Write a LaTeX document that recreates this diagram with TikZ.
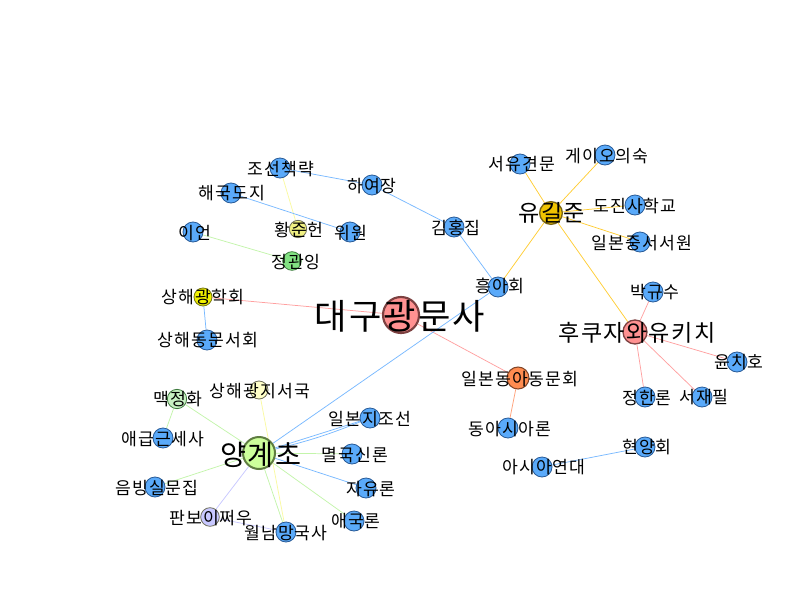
\documentclass[tikz,border=0pt]{standalone}
\usepackage{fontspec}
\newfontfamily\kr[LetterSpace=6]{Noto Sans CJK KR}
\pgfdeclarelayer{bg}
\pgfsetlayers{bg,main}
\definecolor{nb}{RGB}{90,170,250}
\definecolor{nbD}{RGB}{40,90,150}
\definecolor{eb}{RGB}{120,185,255}
\definecolor{pinkN}{RGB}{255,145,145}
\definecolor{pinkD}{RGB}{125,65,65}
\definecolor{ep}{RGB}{255,160,160}
\definecolor{goldN}{RGB}{240,195,0}
\definecolor{goldD}{RGB}{120,100,20}
\definecolor{egd}{RGB}{255,205,50}
\definecolor{orangeN}{RGB}{255,140,80}
\definecolor{orangeD}{RGB}{130,70,40}
\definecolor{eo}{RGB}{255,160,120}
\definecolor{yellowN}{RGB}{240,240,0}
\definecolor{yellowD}{RGB}{120,120,20}
\definecolor{pyN}{RGB}{240,240,130}
\definecolor{epy}{RGB}{250,250,160}
\definecolor{greenN}{RGB}{130,225,130}
\definecolor{greenD}{RGB}{60,120,60}
\definecolor{egr}{RGB}{195,245,170}
\definecolor{lgN}{RGB}{205,255,155}
\definecolor{lgD}{RGB}{95,125,65}
\definecolor{mjN}{RGB}{200,240,195}
\definecolor{creamN}{RGB}{255,255,200}
\definecolor{lavN}{RGB}{200,200,255}
\definecolor{elav}{RGB}{200,200,255}
\definecolor{grayD}{RGB}{110,110,90}
\begin{document}
\begin{tikzpicture}[x=0.75pt,y=-0.75pt,
  nd/.style={circle,draw,inner sep=0pt,minimum size=15pt,line width=0.6pt},
  bn/.style={nd,fill=nb,draw=nbD},
  lb/.style={font=\kr\fontsize{12.9}{14}\selectfont,inner sep=0pt,text=black},
  lbS/.style={font=\kr\fontsize{17.3}{19}\selectfont,inner sep=0pt,text=black},
  lbM/.style={font=\kr\fontsize{21.2}{23}\selectfont,inner sep=0pt,text=black},
  lbL/.style={font=\kr\fontsize{26.4}{29}\selectfont,inner sep=0pt,text=black},
  ed/.style={line width=0.55pt}]
\useasboundingbox (0,0) rectangle (800,600);
% circles
\node[nd,fill=pinkN,draw=pinkD,line width=1.6pt,minimum size=27pt] (dg) at (401,315) {};
\node[bn] (hu) at (498,287) {};
\node[bn] (kh) at (454,227) {};
\node[bn] (hy) at (372,185) {};
\node[bn] (js) at (280,168) {};
\node[bn] (hg) at (231,193) {};
\node[bn] (ww) at (350,232) {};
\node[nd,fill=pyN,draw=grayD,minimum size=13pt] (hj) at (298,229) {};
\node[bn] (ie) at (193,232) {};
\node[nd,fill=greenN,draw=greenD,minimum size=14pt] (jg) at (292,261) {};
\node[nd,fill=yellowN,draw=yellowD,minimum size=13.5pt] (sgh) at (203,297) {};
\node[bn] (sdm) at (207,340) {};
\node[nd,fill=goldN,draw=goldD,line width=1pt,minimum size=17pt] (yk) at (551,213) {};
\node[bn] (sy) at (520,164) {};
\node[bn] (gi) at (605,155) {};
\node[bn] (dj) at (635,205) {};
\node[bn] (ij) at (640,242) {};
\node[nd,fill=pinkN,draw=pinkD,line width=1pt,minimum size=18pt] (fk) at (635,332) {};
\node[bn] (bg) at (653,292) {};
\node[bn] (yc) at (737,362) {};
\node[nd,fill=orangeN,draw=orangeD,line width=0.8pt,minimum size=16.5pt] (ja) at (518,378) {};
\node[bn] (jh) at (645,397) {};
\node[bn] (sj) at (702,397) {};
\node[bn] (da) at (508,428) {};
\node[bn] (hyh) at (645,447) {};
\node[bn] (as) at (542,467) {};
\node[nd,fill=lgN,draw=lgD,line width=1.5pt,minimum size=24pt] (ygc) at (259,453) {};
\node[nd,fill=mjN,draw=greenD,minimum size=14.5pt] (mj) at (177,399) {};
\node[nd,fill=creamN,draw=grayD,minimum size=13.5pt] (sgj) at (259,390) {};
\node[bn] (ijs) at (370,418) {};
\node[bn] (eg) at (163,438) {};
\node[bn] (mg) at (352,454) {};
\node[bn] (ub) at (155,487) {};
\node[bn] (jy) at (366,488) {};
\node[nd,fill=lavN,draw=grayD,minimum size=14pt] (pb) at (210,517) {};
\node[bn] (wn) at (286,532) {};
\node[bn] (ak) at (354,521) {};
% edges
\begin{pgfonlayer}{bg}
\fill[white] (0,0) rectangle (800,600);
\draw[ed,eb] (hu) -- (kh);
\draw[ed,eb] (kh) -- (hy);
\draw[ed,eb] (hy) -- (js);
\draw[ed,epy] (js) -- (hj);
\draw[ed,eb] (hg) -- (ww);
\draw[ed,egr] (ie) -- (jg);
\draw[ed,eb] (sgh) -- (sdm);
\draw[ed,ep] (sgh) -- (dg);
\draw[ed,ep] (dg) -- (ja);
\draw[ed,eo] (ja) -- (da);
\draw[ed,egd] (hu) -- (yk);
\draw[ed,egd] (yk) -- (sy);
\draw[ed,egd] (yk) -- (gi);
\draw[ed,egd] (yk) -- (dj);
\draw[ed,egd] (yk) -- (ij);
\draw[ed,egd] (yk) -- (fk);
\draw[ed,ep] (fk) -- (bg);
\draw[ed,ep] (fk) -- (yc);
\draw[ed,ep] (fk) -- (jh);
\draw[ed,ep] (fk) -- (sj);
\draw[ed,eb] (as) -- (hyh);
\draw[ed,eb] (ygc) -- (hu);
\draw[ed,eb] (ygc) -- (ijs);
\draw[ed,eb] (ygc) to[bend right=4] (ijs);
\draw[ed,egr] (ygc) -- (mg);
\draw[ed,eb] (ygc) -- (jy);
\draw[ed,egr] (ygc) -- (ak);
\draw[ed,egr] (ygc) -- (wn);
\draw[ed,epy] (sgj) -- (wn);
\draw[ed,elav] (ygc) -- (pb);
\draw[ed,elav] (pb) -- (wn);
\draw[ed,egr] (ygc) -- (ub);
\draw[ed,egr] (ygc) -- (mj);
\draw[ed,egr] (mj) -- (eg);
\end{pgfonlayer}
% labels
\node[lbL] (dg-t) at (400,316) {대구광문사};
\node[lb] (hu-t) at (500,286) {흥아회};
\node[lb] (kh-t) at (456,228) {김홍집};
\node[lb] (hy-t) at (372,186) {하여장};
\node[lb] (js-t) at (281,169) {조선책략};
\node[lb] (hg-t) at (232,193) {해국도지};
\node[lb] (ww-t) at (351,233) {위원};
\node[lb] (hj-t) at (299,230) {황준헌};
\node[lb] (ie-t) at (195,233) {이언};
\node[lb] (jg-t) at (296,262) {정관잉};
\node[lb] (sgh-t) at (203,297) {상해광학회};
\node[lb] (sdm-t) at (208,340) {상해동문서회};
\node[lbS] (yk-t) at (552,213) {유길준};
\node[lb] (sy-t) at (522,164) {서유견문};
\node[lb] (gi-t) at (607,156) {게이오의숙};
\node[lb] (dj-t) at (635,206) {도진사학교};
\node[lb] (ij-t) at (642,243) {일본중서서원};
\node[lbS] (fk-t) at (637,333) {후쿠자와유키치};
\node[lb] (bg-t) at (655,292) {박규수};
\node[lb] (yc-t) at (739,362) {윤치호};
\node[lb] (ja-t) at (520,379) {일본동아동문회};
\node[lb] (jh-t) at (647,398) {정한론};
\node[lb] (sj-t) at (704,397) {서재필};
\node[lb] (da-t) at (510,429) {동아시아론};
\node[lb] (hyh-t) at (647,447) {현양회};
\node[lb] (as-t) at (544,467) {아시아연대};
\node[lbM] (ygc-t) at (261,455) {양계초};
\node[lb] (mj-t) at (178,399) {맥정화};
\node[lb] (sgj-t) at (260,391) {상해광지서국};
\node[lb] (ijs-t) at (370,419) {일본지조선};
\node[lb] (eg-t) at (163,439) {애급근세사};
\node[lb] (mg-t) at (355,455) {멸국신론};
\node[lb] (ub-t) at (157,488) {음빙실문집};
\node[lb] (jy-t) at (371,489) {자유론};
\node[lb] (pb-t) at (211,518) {판보이쩌우};
\node[lb] (wn-t) at (286,533) {월남망국사};
\node[lb] (ak-t) at (356,521) {애국론};
\end{tikzpicture}
\end{document}
